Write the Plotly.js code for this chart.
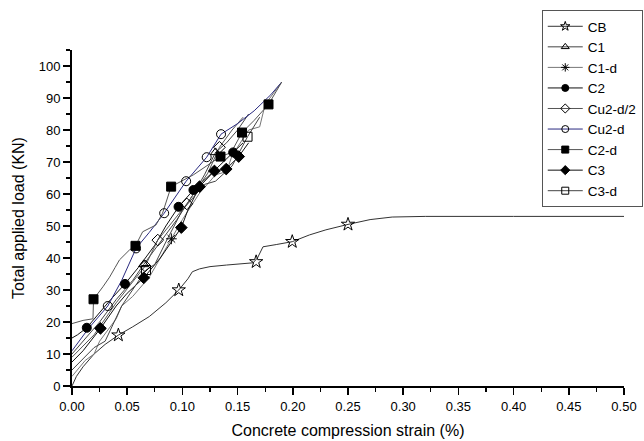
<!DOCTYPE html>
<html><head><meta charset="utf-8">
<script src="https://cdn.plot.ly/plotly-3.0.1.min.js"></script>
<style>html,body{margin:0;padding:0;background:#fff}#chart{width:644px;height:441px}</style>
</head><body><div id="chart"></div>
<script>
// Series names (legend order)
const names = ["CB","C1","C1-d","C2","Cu2-d/2","Cu2-d","C2-d","C3","C3-d"];

// CB
const cbX = [0,0.004,0.01,0.02,0.03,0.042,0.055,0.07,0.085,0.0967,0.105,0.109,0.1155,0.125,0.14,0.164,0.168,0.173,0.185,0.1995,0.215,0.23,0.25,0.27,0.29,0.32,0.40,0.50];
const cbY = [0,3,6,10,13,15.9,18.5,21.7,26,30,33.5,35.7,36.6,37.3,37.8,38.5,40,43.5,44.2,45.1,47.2,48.8,50.5,52,52.8,53,53,53];
const cbMX = [0.042,0.0967,0.1668,0.1995,0.25];
const cbMY = [15.9,30,38.8,45.1,50.5];

// C1
const c1X = [0,0.01,0.025,0.04,0.055,0.065,0.08,0.095,0.11,0.12,0.13,0.14,0.15,0.16];
const c1Y = [10,14,20,27,33,38,45,52,60,66,73,76,80,85];
const c1MX = [0.065,0.13];
const c1MY = [38,73];

// C1-d
const c1dX = [0,0.012,0.02,0.025,0.04,0.045,0.055,0.07,0.09,0.1,0.115,0.13,0.14,0.145,0.16,0.17,0.175,0.19];
const c1dY = [3,8,10,14,21,25,28,34,46,52,60,66,67,72,80,81,88,95];
const c1dMX = [0.09];
const c1dMY = [46];

// C2
const c2X = [0,0.005,0.0134,0.025,0.035,0.048,0.06,0.075,0.085,0.0965,0.11,0.125,0.137,0.146,0.155];
const c2Y = [15,16,18.2,23,27,31.9,37,44,50,56,61.25,66,70,73,76];
const c2MX = [0.0134,0.048,0.0965,0.11,0.146];
const c2MY = [18.2,31.9,56,61.25,73];

// Cu2-d/2
const cu2hX = [0,0.02,0.04,0.0663,0.0777,0.09,0.104,0.123,0.1336,0.145,0.155];
const cu2hY = [9,16,26,37.5,45.6,51,56.9,66.5,74.6,80,84];
const cu2hMX = [0.0663,0.0777,0.104,0.1336];
const cu2hMY = [37.5,45.6,56.9,74.6];

// Cu2-d
const cu2X = [0,0.015,0.0324,0.045,0.058,0.07,0.0835,0.1034,0.122,0.135,0.15,0.165,0.18,0.19];
const cu2Y = [11,18,25,33,43,48,54,64,71.5,78.7,82,86,91,95];
const cu2MX = [0.0324,0.058,0.0835,0.1034,0.122,0.135];
const cu2MY = [25,43,54,64,71.5,78.7];

// C2-d
const c2dX = [0,0.01,0.019,0.0195,0.028,0.034,0.039,0.043,0.052,0.0575,0.064,0.076,0.082,0.085,0.0898,0.11,0.1345,0.144,0.154,0.165,0.178,0.19];
const c2dY = [19.5,20.5,21,27.1,31,34,37,39.4,42.5,43.8,48.2,50.3,54,57,62.3,66,71.7,72.9,79.2,83,88,95];
const c2dMX = [0.0195,0.0575,0.0898,0.1345,0.154,0.178];
const c2dMY = [27.1,43.8,62.3,71.7,79.2,88];

// C3
const c3X = [0,0.01,0.0258,0.04,0.05,0.065,0.08,0.099,0.105,0.1155,0.129,0.1397,0.151,0.16];
const c3Y = [7.5,11,18,25,29,33.8,40,49.5,55,62.3,67.2,67.8,71.7,76];
const c3MX = [0.0258,0.065,0.099,0.1155,0.129,0.1397,0.151];
const c3MY = [18,33.8,49.5,62.3,67.2,67.8,71.7];

// C3-d
const c3dX = [0,0.02,0.03,0.045,0.067,0.075,0.085,0.1,0.12,0.13,0.145,0.159,0.17];
const c3dY = [5,12,14,25,36.25,38,45,55,63,64,68.75,77.9,84];
const c3dMX = [0.067,0.159];
const c3dMY = [36.25,77.9];

const series = [
  {x:cbX,y:cbY,mx:cbMX,my:cbMY,color:"#333333",sym:"star-open"},
  {x:c1X,y:c1Y,mx:c1MX,my:c1MY,color:"#444444",sym:"triangle-up-open"},
  {x:c1dX,y:c1dY,mx:c1dMX,my:c1dMY,color:"#777777",sym:"asterisk-open"},
  {x:c2X,y:c2Y,mx:c2MX,my:c2MY,color:"#111111",sym:"circle"},
  {x:cu2hX,y:cu2hY,mx:cu2hMX,my:cu2hMY,color:"#555555",sym:"diamond-open"},
  {x:cu2X,y:cu2Y,mx:cu2MX,my:cu2MY,color:"#2a2a80",sym:"circle-open"},
  {x:c2dX,y:c2dY,mx:c2dMX,my:c2dMY,color:"#555555",sym:"square"},
  {x:c3X,y:c3Y,mx:c3MX,my:c3MY,color:"#111111",sym:"diamond"},
  {x:c3dX,y:c3dY,mx:c3dMX,my:c3dMY,color:"#444444",sym:"square-open"}
];

const traces = [];
series.forEach((s)=>{
  traces.push({x:s.x,y:s.y,mode:"lines",line:{color:s.color,width:1},showlegend:false,hoverinfo:"skip"});
});
series.forEach((s)=>{
  traces.push({x:s.mx,y:s.my,mode:"markers",showlegend:false,
    marker:{symbol:s.sym,size:(s.sym==="star-open"?10:9),color:"#000",line:{color:"#000",width:1}}});
});
series.forEach((s,i)=>{
  traces.push({x:[null],y:[null],name:names[i],mode:"lines+markers",
    line:{color:s.color,width:1},
    marker:{symbol:s.sym,size:7,color:"#000",line:{color:"#000",width:1}}});
});

const layout = {
  width:644,height:441,
  margin:{l:72,r:20,t:50,b:55,autoexpand:false},
  paper_bgcolor:"#fff",plot_bgcolor:"#fff",
  font:{family:"Liberation Sans, Arial, sans-serif",color:"#000",size:13},
  showlegend:true,
  legend:{x:0.851,y:1.119,xanchor:"left",yanchor:"top",bgcolor:"#fff",itemwidth:35,
    bordercolor:"#555",borderwidth:1,font:{size:13.5,color:"#000"},tracegroupgap:0},
  xaxis:{range:[0,0.5],showgrid:false,zeroline:false,showline:true,linecolor:"#000",linewidth:2,
    ticks:"outside",ticklen:7,tickwidth:1.5,tickcolor:"#000",dtick:0.05,tick0:0,tickformat:".2f",
    minor:{ticks:"outside",ticklen:4,dtick:0.025,tickcolor:"#000",tickwidth:1.2},
    title:{text:"Concrete compression strain (%)",font:{size:16},standoff:12}},
  yaxis:{range:[0,105],showgrid:false,zeroline:false,showline:true,linecolor:"#000",linewidth:2,
    ticks:"outside",ticklen:7,tickwidth:1.5,tickcolor:"#000",dtick:10,tick0:0,
    minor:{ticks:"outside",ticklen:4,dtick:5,tickcolor:"#000",tickwidth:1.2},
    title:{text:"Total applied load (KN)",font:{size:16},standoff:10}}
};
Plotly.newPlot("chart",traces,layout,{displayModeBar:false,staticPlot:true});
</script></body></html>
